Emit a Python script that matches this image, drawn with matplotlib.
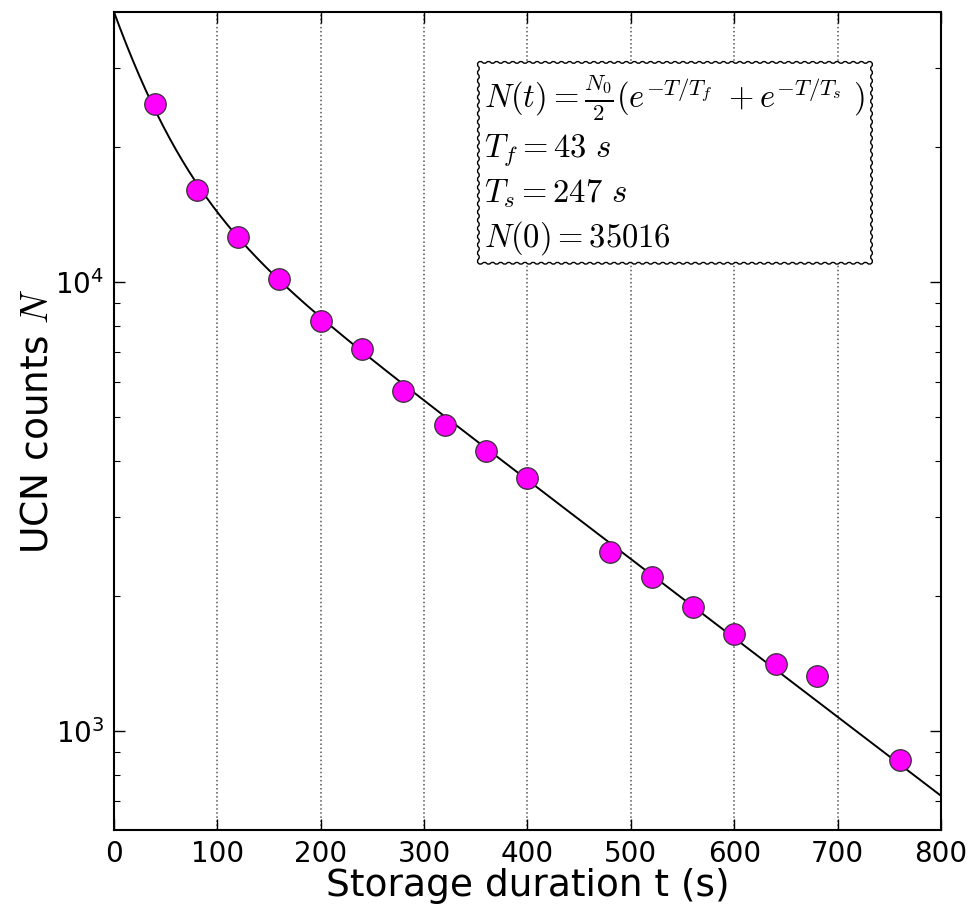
import numpy as np
import matplotlib
matplotlib.use("Agg")
import matplotlib.pyplot as plt

plt.rcParams["mathtext.fontset"] = "cm"

# measured storage times (s) and UCN counts
t_data = [40, 80, 120, 160, 200, 240, 280, 320, 360, 400,
          480, 520, 560, 600, 640, 680, 760]
n_data = [24900, 16030, 12620, 10180, 8190, 7100, 5720, 4805, 4210, 3660,
          2505, 2204, 1892, 1645, 1410, 1325, 861]

# fit parameters (two exponentials)
amp_fast = 21700
amp_slow = 18300
tau_fast = 43
tau_slow = 247

fit_text = ("$N(t)=\\frac{N_0}{2}(e^{-T/T_f}\\ +e^{-T/T_s}\\ )$\n"
            "$T_f=43\\ s$\n"
            "$T_s=247\\ s$\n"
            "$N(0)=35016$")


def model(t):
	return amp_fast * np.exp(-t / tau_fast) + amp_slow * np.exp(-t / tau_slow)


fig = plt.figure(figsize=(9.71, 9.10), dpi=100)
ax = fig.add_axes([0.1174, 0.0879, 0.8517, 0.8989])

t_fit = np.linspace(0, 800, 400)
ax.plot(t_fit, model(t_fit), color="black", lw=1.4, zorder=2)
ax.plot(t_data, n_data, "o", ms=15.5, mfc="#ff00ff", mec="#333333", mew=0.9, zorder=3)

ax.set_yscale("log")
ax.set_xlim(0, 800)
ax.set_ylim(602, 40000)
ax.set_xticks(range(0, 801, 100))

ax.tick_params(which="both", direction="in", top=True, right=True, labelsize=20)
ax.tick_params(which="major", length=8, width=1, pad=7)
ax.tick_params(which="minor", length=4, width=0.8)
ax.xaxis.grid(True, linestyle=":", color="#555555", lw=1.1)
for s in ax.spines.values():
	s.set_linewidth(1.5)

ax.set_xlabel("Storage duration t (s)", fontsize=27, labelpad=0)
ax.set_ylabel("UCN counts $N$", fontsize=27, labelpad=0)

ax.text(0.448, 0.926, fit_text, transform=ax.transAxes, fontsize=23.5,
		va="top", ha="left", linespacing=1.32,
		bbox=dict(boxstyle="roundtooth,pad=0.25", fc="white", ec="black", lw=1))

fig.savefig("out.png", dpi=100)
